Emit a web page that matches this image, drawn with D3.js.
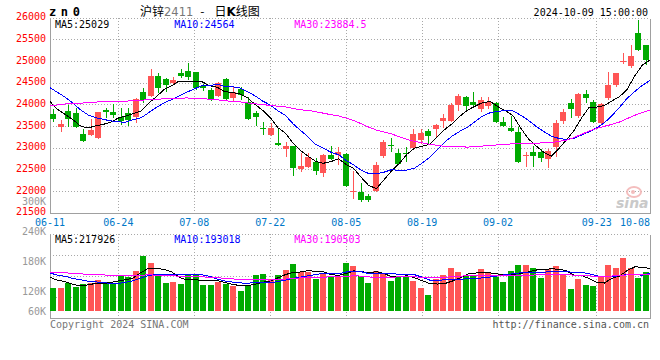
<!DOCTYPE html>
<html><head><meta charset="utf-8">
<script src="https://cdn.jsdelivr.net/npm/d3@7"></script>
<style>html,body{margin:0;padding:0;background:#fff}svg{display:block}</style>
</head><body>
<svg id="c" width="660" height="360"></svg>
<script>
// ---------------- data ----------------
const dates = ["06-11","06-12","06-13","06-14","06-17","06-18","06-19","06-20","06-21","06-24","06-25","06-26","06-27","06-28",
"07-01","07-02","07-03","07-04","07-05","07-08","07-09","07-10","07-11","07-12","07-15","07-16","07-17","07-18","07-19",
"07-22","07-23","07-24","07-25","07-26","07-29","07-30","07-31","08-01","08-02","08-05","08-06","08-07","08-08","08-09",
"08-12","08-13","08-14","08-15","08-16","08-19","08-20","08-21","08-22","08-23","08-26","08-27","08-28","08-29","08-30",
"09-02","09-03","09-04","09-05","09-06","09-09","09-10","09-11","09-12","09-13","09-18","09-19","09-20",
"09-23","09-24","09-25","09-26","09-27","09-30","10-08","10-09"];
const open  = [23791,23484,23861,23822,23322,23307,23245,23884,23845,23714,23807,23730,24291,24207,24668,24599,24499,24745,24783,24753,
24430,24345,24207,24599,24153,24361,24076,23822,23468,23307,23115,22991,23053,22530,22576,22691,22438,22845,22845,22868,
21999,21984,21907,22022,22822,23084,22884,22899,22999,23191,23407,23437,23630,23638,24000,24176,24061,23907,23976,24053,
23599,23469,23369,22822,22907,22922,22753,23022,23630,24038,23745,24253,24076,23592,24153,24461,24984,24907,25668,25384];
const high  = [23907,23653,23999,23922,23438,23668,23845,23922,24014,23923,23922,24153,24384,24822,24730,24630,24638,24830,24960,24768,
24480,24384,24538,24630,24420,24422,24176,23868,23614,23576,23461,23153,23060,22899,22899,22768,22860,23053,23038,22884,
22484,22192,21938,22676,23191,23230,22984,23038,23445,23437,23437,23550,23792,24038,24253,24207,24307,24176,24176,24060,
23730,23745,23499,22922,23053,22976,22976,23653,23907,24130,24265,24346,24115,24038,24768,24745,25191,25384,25961,25395];
const low   = [23614,23384,23499,23480,23153,23284,23222,23691,23691,23538,23522,23576,24038,24191,24284,24291,24460,24630,24576,24345,
24330,24091,24176,24091,24076,24115,23660,23514,23307,23290,23053,22791,22368,22461,22538,22384,22345,22730,22615,22099,
21830,21768,21768,21999,22768,22922,22620,22691,22961,23099,23099,23230,23461,23615,23869,23884,23961,23845,23899,23592,
23484,23384,22669,22576,22576,22676,22545,22807,23561,23707,23692,24038,23576,23561,24115,24407,24945,24845,25253,24922];
const close = [23676,23561,23676,23499,23176,23422,23830,23830,23768,23638,23653,24130,24114,24668,24384,24461,24576,24676,24653,24384,
24400,24114,24499,24130,24307,24230,23676,23714,23453,23461,23076,23053,22553,22592,22807,22476,22845,22753,22914,22130,
22015,21807,21807,22614,23137,23061,22637,22868,23322,23345,23291,23538,23692,24000,24207,23976,24000,24115,24076,23615,
23515,23407,22692,22845,22822,22784,22945,23576,23846,23907,24253,24153,23599,24015,24461,24730,25015,25138,25268,25038];
const volume = [118800,118800,144600,120800,137900,144600,157500,144000,142000,183300,175000,206600,283500,247900,183300,144000,149200,138900,183300,183300,
131700,131700,148200,139400,128600,103300,127500,184400,189500,163700,184400,210200,241200,201400,199900,163700,196200,174000,179200,247900,
230800,179200,144600,205000,196200,154900,174000,172500,154900,118800,81100,162100,184400,220500,201400,179200,184400,215300,196200,172500,
149800,206600,236000,236000,222000,170400,215300,230800,189500,112100,163700,132700,127500,179200,236000,222000,273700,222000,170400,201400];
// closes / volumes of the 29 sessions before 06-11 (estimated from where the MA lines start)
const priorCloses = [22850,22950,23000,23100,23250,23300,23450,23500,23600,23700,23800,23900,24050,24150,24300,24320,24420,24500,24550,24600,
24650,24800,24850,24700,24610,24450,24250,24100,23904];
const priorVolumes = [180000,210000,195000,225000,190000,205000,215000,185000,200000,230000,210000,195000,205000,220000,190000,200000,210000,195000,185000,202000,
230000,205000,225000,210000,214500,195000,180000,190000,178700];
const priceTicks = [26000,25500,25000,24500,24000,23500,23000,22500,22000,21500];
const volTicks = [300000,240000,180000,120000,60000];
const dateTicks = ["06-11","06-24","07-08","07-22","08-05","08-19","09-02","09-23","10-08"];
const priceLegend = ["MA5:25029","MA10:24564","MA30:23884.5"];
const volLegend = ["MA5:217926","MA10:193018","MA30:190503"];
const maPeriods = [5,10,30];
const maColors = ["#000000","#0000ff","#ff00ff"];

// ---------------- layout ----------------
const L=50, R=650, T=18.3, B=213.3, VT=234.3, VB=318;
const UP="#ff5555", DN="#00aa00", GRID="#a8a8a8", AX="#a0a0a0";
const MONO="'DejaVu Sans Mono', 'Liberation Mono', monospace";
const svg = d3.select("#c");

const xPt = d3.scalePoint().domain(dates).range([L,R]);
const xB = d3.scaleBand().domain(dates).range([L,R]).paddingInner(0.2).paddingOuter(0.1);
const y = d3.scaleLinear().domain([21500,26000]).range([B,T]);
const yV = d3.scaleLinear().domain([0,400000]).range([310.7,233.3]);
const yVLab = d3.scaleLinear().domain([0,300000]).range([355,205]);

function ma(arr, prior, n){
  const all = prior.concat(arr);
  return arr.map((_,i)=>{const j=i+prior.length; return d3.mean(all.slice(j-n+1,j+1));});
}
const px = v => Math.floor(v)+0.5;

// ---------------- grid ----------------
const g = svg.append("g").attr("shape-rendering","crispEdges");
const vGridDates = dateTicks.filter(d => xPt(d) > L+5 && xPt(d) < R-10);
// main horizontal gridlines
g.selectAll(".hg").data(priceTicks.filter(v=>v>21500)).join("line")
  .attr("x1",L).attr("x2",R).attr("y1",d=>px(y(d))).attr("y2",d=>px(y(d)))
  .attr("stroke",GRID).attr("stroke-dasharray","1,2");
g.selectAll(".vg").data(vGridDates).join("line")
  .attr("x1",d=>px(xPt(d))).attr("x2",d=>px(xPt(d))).attr("y1",T).attr("y2",B)
  .attr("stroke",GRID).attr("stroke-dasharray","1,2");
// volume gridlines
const vRows = d3.range(0,4).map(k=>VT+(VB-VT)*k/4);
g.selectAll(".vhg").data(vRows).join("line")
  .attr("x1",L).attr("x2",R).attr("y1",d=>px(d)).attr("y2",d=>px(d))
  .attr("stroke",GRID).attr("stroke-dasharray","1,2");
g.selectAll(".vvg").data(vGridDates).join("line")
  .attr("x1",d=>px(xPt(d))).attr("x2",d=>px(xPt(d))).attr("y1",VT).attr("y2",VB)
  .attr("stroke",GRID).attr("stroke-dasharray","1,2");
// axes frame
[[L,T,L,B],[L,B,R,B],[R,T,R,B],[L,VT,L,VB],[L,VB,R,VB],[R,VT,R,VB]].forEach(a=>{
  g.append("line").attr("x1",px(a[0])).attr("y1",px(a[1])).attr("x2",px(a[2])).attr("y2",px(a[3])).attr("stroke",AX);
});

// ---------------- candles ----------------
const cg = svg.append("g").attr("shape-rendering","crispEdges");
const idx = d3.range(dates.length);
const col = i => close[i] >= open[i] ? UP : DN;
cg.selectAll(".wick").data(idx).join("line")
  .attr("x1",i=>px(xB(dates[i])+xB.bandwidth()/2)).attr("x2",i=>px(xB(dates[i])+xB.bandwidth()/2))
  .attr("y1",i=>Math.round(y(high[i]))).attr("y2",i=>Math.round(y(low[i])))
  .attr("stroke",col);
cg.selectAll(".body").data(idx).join("rect")
  .attr("x",i=>Math.floor(xB(dates[i]))).attr("width",Math.round(xB.bandwidth()))
  .attr("y",i=>Math.round(y(Math.max(open[i],close[i]))))
  .attr("height",i=>Math.max(1,Math.round(y(Math.min(open[i],close[i])))-Math.round(y(Math.max(open[i],close[i])))))
  .attr("fill",col);
// volume bars
cg.selectAll(".vbar").data(idx).join("rect")
  .attr("x",i=>Math.floor(xB(dates[i]))).attr("width",Math.round(xB.bandwidth()))
  .attr("y",i=>Math.round(yV(volume[i]))).attr("height",i=>Math.round(yV(0))-Math.round(yV(volume[i])))
  .attr("fill",col);

// ---------------- MA lines ----------------
const lg = svg.append("g").attr("fill","none").attr("stroke-width",1).attr("shape-rendering","crispEdges");
maPeriods.forEach((n,k)=>{
  const m = ma(close, priorCloses, n);
  lg.append("path").attr("d", d3.line().x((d,i)=>xPt(dates[i])).y(d=>y(d))(m)).attr("stroke",maColors[k]);
  const mv = ma(volume, priorVolumes, n);
  lg.append("path").attr("d", d3.line().x((d,i)=>xPt(dates[i])).y(d=>yV(d))(mv)).attr("stroke",maColors[k]);
});

// ---------------- texts ----------------
const t = svg.append("g").attr("font-family",MONO).attr("font-size",10);
t.selectAll(".yl").data(priceTicks).join("text")
  .attr("x",46).attr("y",d=>y(d)+2).attr("text-anchor","end").attr("fill","#ff0000").text(d=>d);
t.selectAll(".vl").data(volTicks).join("text")
  .attr("x",46).attr("y",d=>Math.min(yVLab(d),315)).attr("text-anchor","end").attr("fill","#999")
  .text(d=>(d/1000)+"K");
t.selectAll(".xl").data(dateTicks).join("text")
  .attr("y",225.5).attr("text-anchor","middle").attr("fill","#0078c8").text(d=>d)
  .attr("x",function(d){const w=this.getComputedTextLength(); return Math.min(xPt(d), R-w/2);});
const legX = [55,174.3,294.3];
t.selectAll(".pleg").data(priceLegend).join("text")
  .attr("x",(d,i)=>legX[i]).attr("y",27.5).attr("fill",(d,i)=>maColors[i]).text(d=>d);
t.selectAll(".vleg").data(volLegend).join("text")
  .attr("x",(d,i)=>legX[i]).attr("y",242.5).attr("fill",(d,i)=>maColors[i]).text(d=>d);
t.append("text").attr("x",648).attr("y",15.5).attr("text-anchor","end").attr("fill","#000").text("2024-10-09 15:00:00");
t.append("text").attr("x",50).attr("y",327.5).attr("fill","#777").text("Copyright 2024 SINA.COM");
t.append("text").attr("x",649).attr("y",327.5).attr("text-anchor","end").attr("fill","#555").text("http://finance.sina.com.cn");
// symbol
svg.append("text").attr("x",49).attr("y",15.5).attr("font-family",MONO).attr("font-weight","bold")
  .attr("font-size",12).attr("letter-spacing","4.6px").attr("fill","#000").text("zn0");
// title
const tt = svg.append("text").attr("x",140).attr("y",15.5).attr("font-family","'Noto Sans CJK SC', sans-serif").attr("font-size",12).attr("fill","#000");
tt.append("tspan").text("沪锌");
tt.append("tspan").attr("fill","#777").attr("font-family","'DejaVu Sans', sans-serif").attr("font-size",11.5).text("2411");
tt.append("tspan").attr("dx",7).text("-");
tt.append("tspan").attr("dx",10).text("日");
tt.append("tspan").attr("font-weight","bold").attr("font-family","'DejaVu Sans', sans-serif").text("K");
tt.append("tspan").text("线图");
// sina watermark
const wm = svg.append("g").attr("opacity",0.9);
wm.append("ellipse").attr("cx",634).attr("cy",192).attr("rx",7).attr("ry",5).attr("fill","none").attr("stroke","#f3b7b7").attr("stroke-width",2);
wm.append("circle").attr("cx",633).attr("cy",192).attr("r",2).attr("fill","#f3b7b7");
wm.append("text").attr("x",616).attr("y",208).attr("font-family","'DejaVu Sans', sans-serif").attr("font-style","italic")
  .attr("font-weight","bold").attr("font-size",14).attr("fill","#c4c4c4").text("sina");
</script>
</body></html>
